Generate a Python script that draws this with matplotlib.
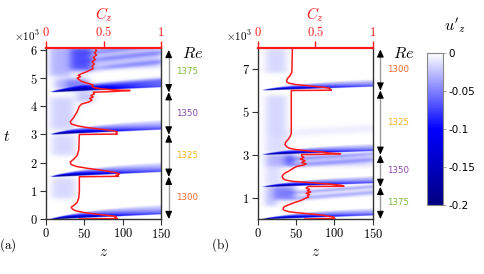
import numpy as np
import matplotlib
matplotlib.use('Agg')
import matplotlib.pyplot as plt
from matplotlib.colors import LinearSegmentedColormap
from matplotlib.transforms import blended_transform_factory

plt.rcParams['mathtext.fontset'] = 'cm'
plt.rcParams['font.family'] = ['DejaVu Sans']

# ---------------- data ----------------
# red C_z curves (t in units of 10^3)
a_t = [0.00, 0.015, 0.05, 0.09, 0.13, 0.18, 0.23, 0.29, 0.35, 0.42, 0.48, 0.58, 0.75, 1.00, 1.50,
       1.515, 1.55, 1.60, 1.65, 1.70, 1.75, 1.80, 1.86, 1.93, 2.02, 2.12, 2.25, 2.45, 3.00,
       3.015, 3.06, 3.10, 3.14, 3.19, 3.24, 3.30, 3.37, 3.45, 3.60, 3.80, 4.00,
       4.08, 4.15, 4.22, 4.28, 4.33, 4.38, 4.44, 4.50,
       4.52, 4.56, 4.58, 4.62, 4.66, 4.70, 4.76, 4.82, 4.88, 4.94, 5.00, 5.05, 5.10, 5.16,
       5.22, 5.28, 5.34, 5.42, 5.50, 5.58, 5.66, 5.74, 5.82, 5.90, 5.97, 6.03, 6.08]
a_C = [0.29, 0.62, 0.60, 0.61, 0.53, 0.42, 0.33, 0.26, 0.23, 0.22, 0.24, 0.27, 0.285, 0.29, 0.29,
       0.63, 0.61, 0.64, 0.60, 0.53, 0.45, 0.36, 0.27, 0.22, 0.21, 0.24, 0.27, 0.285, 0.29,
       0.62, 0.61, 0.62, 0.57, 0.47, 0.37, 0.28, 0.22, 0.21, 0.24, 0.27, 0.29,
       0.31, 0.37, 0.40, 0.38, 0.41, 0.39, 0.42, 0.41,
       0.55, 0.73, 0.60, 0.48, 0.42, 0.40, 0.41, 0.36, 0.31, 0.29, 0.27, 0.30, 0.28, 0.31,
       0.35, 0.38, 0.41, 0.40, 0.42, 0.40, 0.43, 0.41, 0.44, 0.42, 0.44, 0.43, 0.44]

b_t = [0.00, 0.02, 0.09, 0.14, 0.18, 0.22, 0.26, 0.30, 0.34, 0.40, 0.45, 0.52, 0.58, 0.67, 0.77,
       0.84, 0.90, 0.96, 1.02, 1.08, 1.14, 1.20, 1.26, 1.32, 1.38, 1.44, 1.52,
       1.53, 1.58, 1.63, 1.68, 1.72, 1.76, 1.82, 1.88, 1.99, 2.08, 2.16, 2.24, 2.31, 2.38, 2.46,
       2.52, 2.58, 2.64, 2.72, 2.80, 2.88, 2.94, 3.01,
       3.02, 3.05, 3.08, 3.13, 3.19, 3.25, 3.31, 3.38, 3.47, 3.58, 3.70, 3.85, 4.00, 6.00,
       6.015, 6.07, 6.11, 6.15, 6.19, 6.23, 6.28, 6.34, 6.41, 6.48, 6.58, 6.70, 6.85, 8.00]
b_C = [0.41, 0.67, 0.66, 0.60, 0.56, 0.49, 0.41, 0.33, 0.27, 0.23, 0.22, 0.22, 0.23, 0.27, 0.32,
       0.36, 0.39, 0.41, 0.44, 0.43, 0.45, 0.42, 0.46, 0.43, 0.45, 0.42, 0.44,
       0.75, 0.72, 0.62, 0.50, 0.40, 0.30, 0.24, 0.22, 0.21, 0.22, 0.24, 0.27, 0.29, 0.31, 0.34,
       0.40, 0.42, 0.38, 0.41, 0.37, 0.40, 0.38, 0.38,
       0.55, 0.72, 0.62, 0.56, 0.42, 0.32, 0.27, 0.25, 0.235, 0.24, 0.26, 0.28, 0.29, 0.29,
       0.64, 0.63, 0.62, 0.57, 0.49, 0.42, 0.33, 0.27, 0.25, 0.25, 0.26, 0.28, 0.295, 0.30]

# Re switching times (10^3) and labels
a_events = [0.0, 1.5, 3.0, 4.5]
b_events = [0.0, 1.5, 3.0, 6.0]
a_segments = [(0.0, 1.5), (1.5, 3.0), (3.0, 4.5), (4.5, 6.0)]
b_segments = [(0.0, 1.5), (1.5, 3.0), (3.0, 6.0), (6.0, 7.92)]
a_Re = ['1300', '1325', '1350', '1375']
b_Re = ['1375', '1350', '1325', '1300']
Re_colors = {'1300': '#f26a2e', '1325': '#f2b01e', '1350': '#8a45a8', '1375': '#7cb83a'}

a_yticks = [0, 1, 2, 3, 4, 5, 6]
b_yticks = [1, 3, 5, 7]
z_ticks = [0, 50, 100, 150]
C_ticks = [0, 0.5, 1]
cbar_ticks = [0, -0.05, -0.1, -0.15, -0.2]
cbar_labels = ['0', '-0.05', '-0.1', '-0.15', '-0.2']

# u'_z field components
# faint / turbulent patches: (z0, z1, t0, t1, amplitude)
a_patches = [(8, 38, 0.72, 1.45, 0.016), (8, 38, 2.25, 2.97, 0.016), (6, 36, 3.15, 4.30, 0.018),
             (5, 32, 5.05, 6.08, 0.03), (28, 55, 4.57, 4.95, 0.05), (32, 60, 5.25, 6.08, 0.07),
             (12, 30, 4.58, 4.95, 0.03), (40, 62, 4.15, 4.47, 0.025), (62, 150, 5.35, 6.08, 0.02)]
b_patches = [(10, 37, 6.80, 7.90, 0.016), (10, 37, 3.90, 5.75, 0.016), (10, 38, 3.10, 3.90, 0.014),
             (10, 45, 2.45, 3.00, 0.03), (36, 47, 2.50, 3.00, 0.035), (45, 150, 2.45, 3.00, 0.015),
             (10, 30, 1.60, 2.45, 0.014), (22, 48, 0.90, 1.50, 0.05), (10, 24, 0.60, 1.50, 0.025)]
# diagonal streaks: (z_start, t_start, slope, width, amplitude)
a_streaks = [(55, 4.65, 0.0025, 0.12, 0.03), (62, 5.30, 0.003, 0.1, 0.025),
             (62, 5.62, 0.003, 0.1, 0.025), (62, 5.90, 0.003, 0.1, 0.025)]
b_streaks = [(48, 0.95, 0.0028, 0.12, 0.03), (48, 1.22, 0.0028, 0.1, 0.03),
             (45, 2.50, 0.0025, 0.12, 0.025), (45, 2.78, 0.0025, 0.1, 0.025),
             (40, 4.00, 0.002, 0.2, 0.007)]
# wedge after each switch: z origin, lower-edge slope, thickness, near/far amplitude
wedge_z0 = 9.0
wedge_slope = 0.0012
wedge_th0 = 0.03
wedge_th_max = 0.34
wedge_amp_near = 0.32
wedge_amp_far = 0.06


def sig(x):
    return 1.0 / (1.0 + np.exp(-x))


def build_field(ymax, events, patches, streaks):
    zg = np.linspace(0, 150, 401)
    tg = np.linspace(0, ymax, 900)
    Z, T = np.meshgrid(zg, tg)
    F = np.zeros_like(Z)
    for (z0, z1, t0, t1, amp) in patches:
        F -= amp * sig((Z - z0) / 3.0) * sig((z1 - Z) / 3.0) * sig((T - t0) / 0.05) * sig((t1 - T) / 0.05)
    for (zs, ts, sl, w, amp) in streaks:
        tc = ts + sl * (Z - zs)
        F -= amp * np.exp(-((T - tc) / w) ** 2) * sig((Z - zs) / 6.0)
    for tk in events:
        dz = np.clip(Z - wedge_z0, 0, None)
        base = tk + wedge_slope * dz
        th = wedge_th0 + wedge_th_max * (1 - np.exp(-dz / 55.0))
        d = (T - base) / th
        ampz = wedge_amp_far + (wedge_amp_near - wedge_amp_far) * np.exp(-dz / 50.0)
        prof = np.where(d >= 0, 0.3 * np.exp(-4 * d) + 0.7 * np.clip(1 - d, 0, None) ** 0.8,
                        np.exp(d * th / 0.006))
        F -= ampz * prof * sig((Z - wedge_z0) / 1.5)
    return np.clip(F, -0.2, 0)


cmap = LinearSegmentedColormap.from_list('uz', [(0.0, '#000080'), (0.5, '#0000ff'), (1.0, '#ffffff')])

W, H = 484, 274
fig = plt.figure(figsize=(W / 100, H / 100), dpi=100)


def fax(l, b, r, t):
    return [l / W, 1 - b / H, (r - l) / W, (b - t) / H]


RED = '#ff1a1a'
SP = '#333333'


def panel(rect, ymax, events, patches, streaks, tc, Cc, yticks, segments, labels, tag):
    ax = fig.add_axes(rect)
    F = build_field(ymax, events, patches, streaks)
    ax.imshow(F, extent=[0, 150, 0, ymax], origin='lower', aspect='auto', cmap=cmap,
              vmin=-0.2, vmax=0, interpolation='bilinear')
    ax.set_xlim(0, 150)
    ax.set_ylim(0, ymax)
    ax.set_xticks(z_ticks)
    ax.set_xticklabels(['$%d$' % v for v in z_ticks], fontsize=9)
    ax.set_yticks(yticks)
    ax.set_yticklabels(['$%d$' % v for v in yticks], fontsize=9)
    ax.tick_params(direction='out', length=4, width=0.8, color=SP, pad=2)
    for s in ['left', 'bottom', 'right']:
        ax.spines[s].set_color(SP)
        ax.spines[s].set_linewidth(1.0)
    ax.spines['top'].set_visible(False)
    ax.set_xlabel('$z$', fontsize=11, labelpad=2)
    ax2 = ax.twiny()
    ax2.set_xlim(0, 1)
    ax2.plot(Cc, tc, color=RED, lw=1.1)
    ax2.set_xticks(C_ticks)
    ax2.set_xticklabels(['$0$', '$0.5$', '$1$'], fontsize=9, color=RED)
    ax2.tick_params(axis='x', direction='out', length=5, width=1.0, color=RED, pad=1.5)
    ax2.spines['top'].set_color(RED)
    ax2.spines['top'].set_linewidth(1.6)
    for s in ['left', 'bottom', 'right']:
        ax2.spines[s].set_visible(False)
    ax2.set_xlabel('$C_z$', fontsize=11, color=RED, labelpad=4)
    ax2.set_ylim(0, ymax)
    ax.text(-0.05, 1.07, r'$\times 10^3$', transform=ax.transAxes, ha='right', va='center', fontsize=8)
    tr = blended_transform_factory(ax.transAxes, ax.transData)
    xa = 1.067
    for (s0, s1), lab in zip(segments, labels):
        ax.plot([xa, xa], [s0 + 0.06 * ymax / 6, s1 - 0.06 * ymax / 6], color='#999999', lw=1.0,
                transform=tr, clip_on=False)
        for tip, tail in [(s1, s1 - 0.2 * ymax / 6), (s0, s0 + 0.2 * ymax / 6)]:
            ax.annotate('', xy=(xa, tip), xytext=(xa, tail), xycoords=tr, textcoords=tr,
                        arrowprops=dict(arrowstyle='-|>,head_length=0.45,head_width=0.2', color='k',
                                        lw=0.8, shrinkA=0, shrinkB=0))
        ax.text(1.225, 0.5 * (s0 + s1), lab, transform=tr, ha='center', va='center', fontsize=6.2,
                color=Re_colors[lab])
    fig.text(rect[0] + rect[2] * 1.27, 1 - 54 / H, '$Re$', fontsize=11.5, ha='center', va='center')
    fig.text(rect[0] - 38 / W, 1 - 245 / H, r'$\mathrm{(' + tag + ')}$', fontsize=9.5, ha='center', va='center')
    return ax


axA = panel(fax(46, 219, 161, 47.7), 6.08, a_events, a_patches, a_streaks, a_t, a_C, a_yticks,
            a_segments, a_Re, 'a')
axB = panel(fax(258, 219, 372.7, 47.7), 8.0, b_events, b_patches, b_streaks, b_t, b_C, b_yticks,
            b_segments, b_Re, 'b')
fig.text(7 / W, 1 - 136 / H, '$t$', fontsize=11, ha='center', va='center')

cax = fig.add_axes(fax(427, 205, 443, 53))
sm = plt.cm.ScalarMappable(cmap=cmap, norm=plt.Normalize(-0.2, 0))
cb = fig.colorbar(sm, cax=cax)
cb.set_ticks(cbar_ticks)
cb.set_ticklabels(cbar_labels)
cb.ax.tick_params(labelsize=7.5, length=2, width=0.5, color='#888888', pad=2)
cb.outline.set_edgecolor('#888888')
cb.outline.set_linewidth(0.8)
fig.text(455 / W, 1 - 25 / H, "$u'_z$", fontsize=11.5, ha='center', va='center')

fig.savefig('out.png', dpi=100)
